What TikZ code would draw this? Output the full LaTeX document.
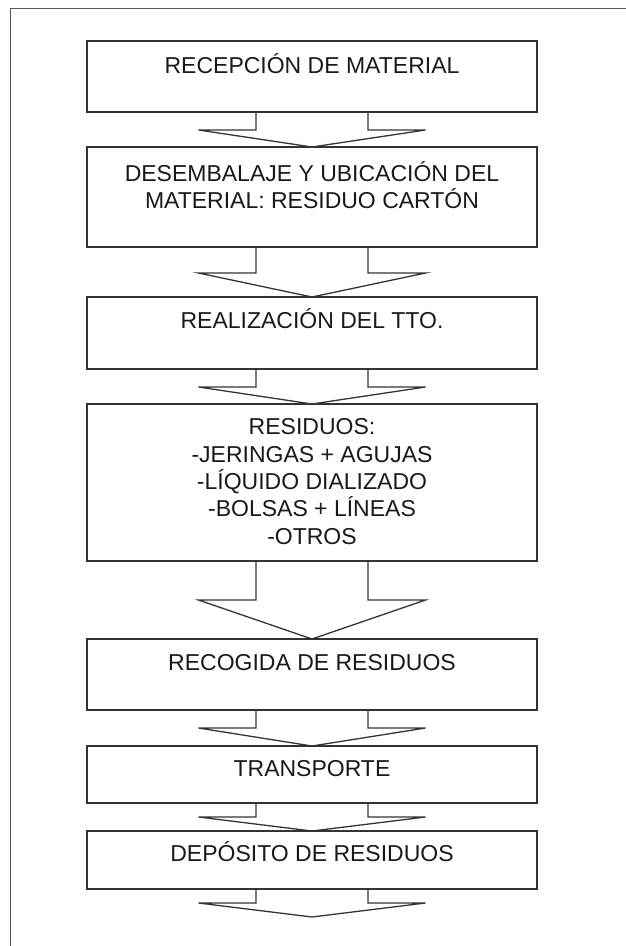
\documentclass[tikz,border=0pt]{standalone}
\usepackage{fontspec}
\setmainfont{Liberation Sans}
\usetikzlibrary{positioning}

\begin{document}
\begin{tikzpicture}[x=1pt,y=1pt,node distance=35pt]
	\tikzstyle{caja}=[draw=black!80, line width=1.3pt, minimum width=450pt, inner sep=0pt, outer sep=0pt]
	\tikzstyle{texto}=[font=\fontsize{23}{27.3}\selectfont, align=center, inner sep=0pt, text=black!90]
	\tikzstyle{flecha}=[draw=black!80, line width=1.3pt, line join=miter]
	\useasboundingbox (0,0) rectangle (626,-946);
	\clip (0,0) rectangle (626,-946);
	\draw[black!65, line width=1pt] (640,-8) -- (10,-8) -- (10,-960);
		\node[caja, minimum height=71pt, anchor=north] (rec) at (312,-41) {};
		\node[texto, text height=16.5pt, text depth=0pt] (rec_t) at ([yshift=-24pt]rec.north) {RECEPCIÓN DE MATERIAL};
		\node[caja, minimum height=100pt, below=35pt of rec] (des) {};
		\node[texto] (des_t) at ([yshift=-38pt]des.north) {DESEMBALAJE Y UBICACIÓN DEL\\MATERIAL: RESIDUO CARTÓN};
			\draw[flecha] ([xshift=-56pt]rec.south) -- ++(0,-18) -- ++(-57.5,0) -- (des.north) -- ++(113.5,17) -- ++(-57.5,0) -- ([xshift=56pt]rec.south);
		\node[caja, minimum height=72pt, below=50pt of des] (tto) {};
		\node[texto, text height=16.5pt, text depth=0pt] (tto_t) at ([yshift=-23pt]tto.north) {REALIZACIÓN DEL TTO.};
			\draw[flecha] ([xshift=-56pt]des.south) -- ++(0,-26) -- ++(-57.5,0) -- (tto.north) -- ++(113.5,24) -- ++(-57.5,0) -- ([xshift=56pt]des.south);
		\node[caja, minimum height=157pt, below=35pt of tto] (res) {};
		\node[texto] (res_t) at ([yshift=-77.5pt]res.north) {RESIDUOS:\\-JERINGAS + AGUJAS\\-LÍQUIDO DIALIZADO\\-BOLSAS + LÍNEAS\\-OTROS};
			\draw[flecha] ([xshift=-56pt]tto.south) -- ++(0,-18) -- ++(-57.5,0) -- (res.north) -- ++(113.5,17) -- ++(-57.5,0) -- ([xshift=56pt]tto.south);
		\node[caja, minimum height=71pt, below=78pt of res] (rcg) {};
		\node[texto, text height=16.5pt, text depth=0pt] (rcg_t) at ([yshift=-23pt]rcg.north) {RECOGIDA DE RESIDUOS};
			\draw[flecha] ([xshift=-56pt]res.south) -- ++(0,-39) -- ++(-57.5,0) -- (rcg.north) -- ++(113.5,39) -- ++(-57.5,0) -- ([xshift=56pt]res.south);
		\node[caja, minimum height=57pt, below=36pt of rcg] (tra) {};
		\node[texto, text height=16.5pt, text depth=0pt] (tra_t) at ([yshift=-22pt]tra.north) {TRANSPORTE};
			\draw[flecha] ([xshift=-56pt]rcg.south) -- ++(0,-18) -- ++(-57.5,0) -- (tra.north) -- ++(113.5,18) -- ++(-57.5,0) -- ([xshift=56pt]rcg.south);
		\node[caja, minimum height=58pt, below=28pt of tra] (dep) {};
		\node[texto, text height=16.5pt, text depth=0pt] (dep_t) at ([yshift=-22pt]dep.north) {DEPÓSITO DE RESIDUOS};
			\draw[flecha] ([xshift=-56pt]tra.south) -- ++(0,-14) -- ++(-57.5,0) -- (dep.north) -- ++(113.5,14) -- ++(-57.5,0) -- ([xshift=56pt]tra.south);
		\coordinate[below=28pt of dep] (fin);
			\draw[flecha] ([xshift=-56pt]dep.south) -- ++(0,-14) -- ++(-57.5,0) -- (fin) -- ++(113.5,14) -- ++(-57.5,0) -- ([xshift=56pt]dep.south);
\end{tikzpicture}
\end{document}
